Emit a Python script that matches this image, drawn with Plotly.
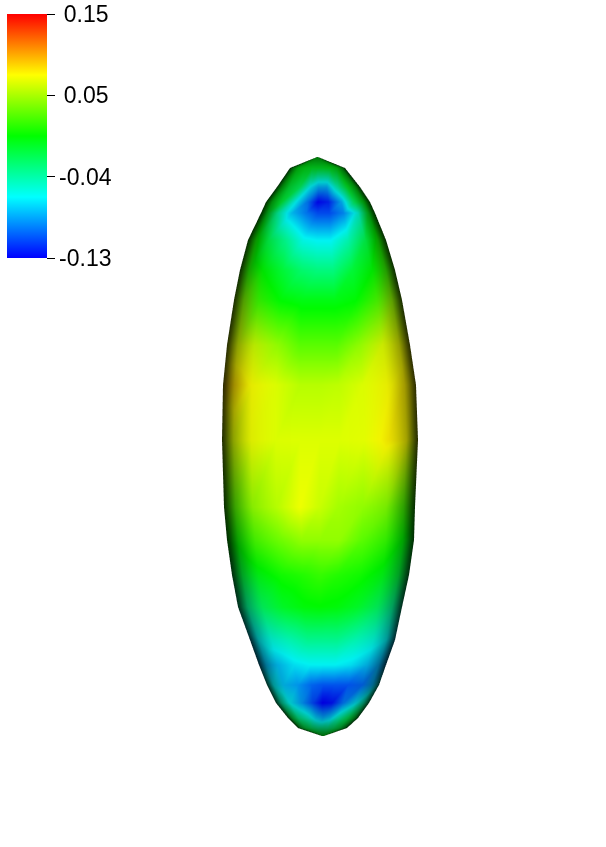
import plotly.graph_objects as go

# silhouette rows (page pixels)
rows_y = [157,168,187,202,213,240,270,300,345,385,440,507,540,575,607,640,665,685,703,718,728,736]
left_x = [317,290,277,266,261,248,240,234,227,223,222,224,227,232,238,250,259,267,276,288,298,322]
right_x= [318,345,360,370,375,386,395,402,410,416,418,415,414,409,402,395,386,379,369,358,347,324]
# column positions across each row, -1 = left limb, +1 = right limb
cols_u = [-1,-0.97,-0.88,-0.7,-0.45,-0.2,0,0.2,0.45,0.7,0.88,0.97,1]
# relative depth at each column
depth_u = [0,0.48,0.78,0.93,0.99,1,1,1,0.99,0.93,0.78,0.48,0]
values = [
 [.005,.005,.005,.005,.005,.005,.005,.005,.005,.005,.005,.005,.005],
 [.005,.005,.005,.005,.003,.0,.0,.0,.003,.005,.005,.005,.005],
 [.005,.005,.005,-.005,-.015,-.06,-.08,-.08,-.04,.0,.005,.005,.005],
 [.01,.01,.005,-.005,-.055,-.095,-.128,-.12,-.08,-.015,.005,.01,.01],
 [.01,.01,.0,-.035,-.075,-.095,-.108,-.108,-.09,-.05,.0,.01,.01],
 [.02,.02,.015,-.01,-.03,-.055,-.06,-.06,-.04,-.01,.015,.02,.02],
 [.03,.03,.02,.01,-.005,-.02,-.025,-.025,-.005,.01,.025,.03,.03],
 [.05,.05,.045,.025,.01,.005,.005,.005,.01,.03,.05,.05,.05],
 [.07,.07,.07,.065,.05,.035,.035,.035,.05,.07,.075,.075,.075],
 [.085,.09,.088,.078,.07,.06,.06,.062,.07,.078,.083,.08,.08],
 [.06,.065,.07,.075,.07,.07,.07,.07,.072,.083,.08,.07,.07],
 [.025,.03,.035,.05,.06,.075,.065,.055,.05,.045,.03,.025,.02],
 [.01,.012,.015,.03,.04,.05,.05,.05,.035,.025,.01,.005,.005],
 [-.01,-.008,-.005,.005,.015,.02,.025,.02,.015,.005,-.005,-.01,-.01],
 [-.035,-.03,-.03,-.015,.0,.008,.01,.008,.0,-.015,-.03,-.035,-.035],
 [-.07,-.065,-.06,-.05,-.04,-.03,-.03,-.03,-.04,-.05,-.06,-.065,-.07],
 [-.075,-.075,-.075,-.075,-.065,-.06,-.06,-.06,-.065,-.075,-.08,-.08,-.08],
 [-.04,-.05,-.06,-.075,-.085,-.1,-.105,-.105,-.105,-.1,-.08,-.06,-.05],
 [-.03,-.035,-.04,-.06,-.085,-.11,-.13,-.125,-.095,-.065,-.04,-.03,-.03],
 [-.005,-.005,-.01,-.03,-.045,-.07,-.08,-.07,-.04,-.015,-.005,-.005,-.005],
 [.0,.0,-.005,-.01,-.02,-.03,-.03,-.03,-.02,-.01,-.005,.0,.0],
 [.005,.005,.005,.005,.005,.005,.005,.005,.005,.005,.005,.005,.005],
]
tick_vals = [-0.13,-0.0367,0.0567,0.15]
tick_text = ["-0.13","-0.04","\u20090.05","\u20090.15"]
rainbow = [[0,"#0000ff"],[0.25,"#00ffff"],[0.5,"#00ff00"],[0.75,"#ffff00"],[1,"#ff0000"]]

xs,ys,zs,ints=[],[],[],[]
for r,y in enumerate(rows_y):
    c=(left_x[r]+right_x[r])/2; h=(right_x[r]-left_x[r])/2
    for q,u in enumerate(cols_u):
        xs.append(c+u*h); ys.append(-y); zs.append(depth_u[q]*h); ints.append(values[r][q])
nc=len(cols_u)
I,J,K=[],[],[]
for r in range(len(rows_y)-1):
    for q in range(nc-1):
        a=r*nc+q;b=a+1;d=a+nc;e=d+1
        I+= [a,b]; J+=[b,e]; K+=[d,d]

fig=go.Figure(go.Mesh3d(x=xs,y=ys,z=zs,i=I,j=J,k=K,intensity=ints,colorscale=rainbow,
    cmin=-0.13,cmax=0.15,hoverinfo="skip",flatshading=False,
    lighting=dict(ambient=0.12,diffuse=0.88,specular=0,roughness=1,fresnel=0),
    lightposition=dict(x=0,y=0,z=-100000),
    colorbar=dict(tickmode="array",tickvals=tick_vals,ticktext=tick_text,ticks="outside",ticklen=8,
        tickcolor="black",tickwidth=1,outlinewidth=0,thicknessmode="pixels",thickness=40,lenmode="pixels",len=244,
        x=7/606,xanchor="left",y=1-14/847,yanchor="top",xpad=0,ypad=0,
        tickfont=dict(family="Liberation Sans",size=23,color="black"))))
ax=dict(visible=False,showgrid=False,zeroline=False,showbackground=False)
fig.update_layout(width=606,height=847,margin=dict(l=0,r=0,t=0,b=0),paper_bgcolor="white",
  scene=dict(domain=dict(x=[0,1],y=[0,1]),
    xaxis=dict(range=[0,606],**ax),yaxis=dict(range=[-847,0],**ax),zaxis=dict(range=[-100,100],**ax),
    aspectmode="manual",aspectratio=dict(x=2*606/847,y=2,z=400/847),
    camera=dict(projection=dict(type="orthographic"),eye=dict(x=0,y=0,z=2),up=dict(x=0,y=1,z=0),center=dict(x=0,y=0,z=0))))
fig.write_html("out.html",config=dict(displayModeBar=False),post_script="document.body.style.margin='0';")
